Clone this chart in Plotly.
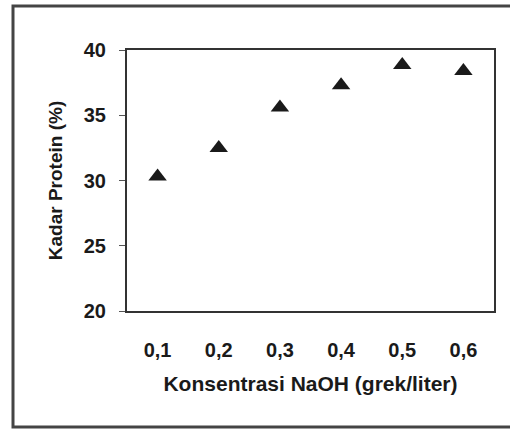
import plotly.graph_objects as go

categories = ["0,1", "0,2", "0,3", "0,4", "0,5", "0,6"]
kadar_protein = [30.3, 32.5, 35.6, 37.3, 38.85, 38.4]
y_ticks = [20, 25, 30, 35, 40]

W, H = 510, 432
L, R, T, B = 127, 16, 50, 121
pw = W - L - R
ph = H - T - B

def px(x):
    return (x - L) / pw

def py(y):
    return (H - B - y) / ph

fig = go.Figure()
fig.add_trace(go.Scatter(
    x=categories, y=kadar_protein, mode="markers",
    marker=dict(symbol="triangle-up", size=16, color="#1a1a1a"),
    showlegend=False,
))

tf = dict(family="Liberation Sans", size=20, color="#1a1a1a", weight="bold")

fig.update_layout(
    width=W, height=H,
    margin=dict(l=L, r=R, t=T, b=B, pad=0),
    paper_bgcolor="white", plot_bgcolor="white",
    font=dict(family="Liberation Sans", size=16, color="#1a1a1a"),
    xaxis=dict(
        type="category", range=[-0.5, 5.5],
        showline=True, linecolor="#333333", linewidth=2, mirror=True,
        showgrid=False, ticks="", ticklabelstandoff=20,
        tickfont=tf,
        title=dict(text="Konsentrasi NaOH (grek/liter)", standoff=16,
                   font=dict(family="Liberation Sans", size=21, color="#1a1a1a", weight="bold")),
    ),
    yaxis=dict(
        range=[20, 40], tickvals=y_ticks,
        showline=True, linecolor="#333333", linewidth=2, mirror=True,
        showgrid=False, ticks="outside", ticklen=6, tickcolor="#555555",
        ticklabelstandoff=9,
        tickfont=tf,
        title=dict(text="Kadar Protein (%)", standoff=16,
                   font=dict(family="Liberation Sans", size=19, color="#1a1a1a", weight="bold")),
    ),
    shapes=[dict(
        type="rect", xref="paper", yref="paper",
        x0=px(13), x1=px(530), y0=py(427), y1=py(6),
        line=dict(color="#444444", width=3), fillcolor="rgba(0,0,0,0)", layer="below",
    )],
)

fig.write_html(
    "out.html",
    config={"displayModeBar": False},
    post_script="document.body.style.margin='0';document.body.style.padding='0';document.body.style.overflow='hidden';",
)
